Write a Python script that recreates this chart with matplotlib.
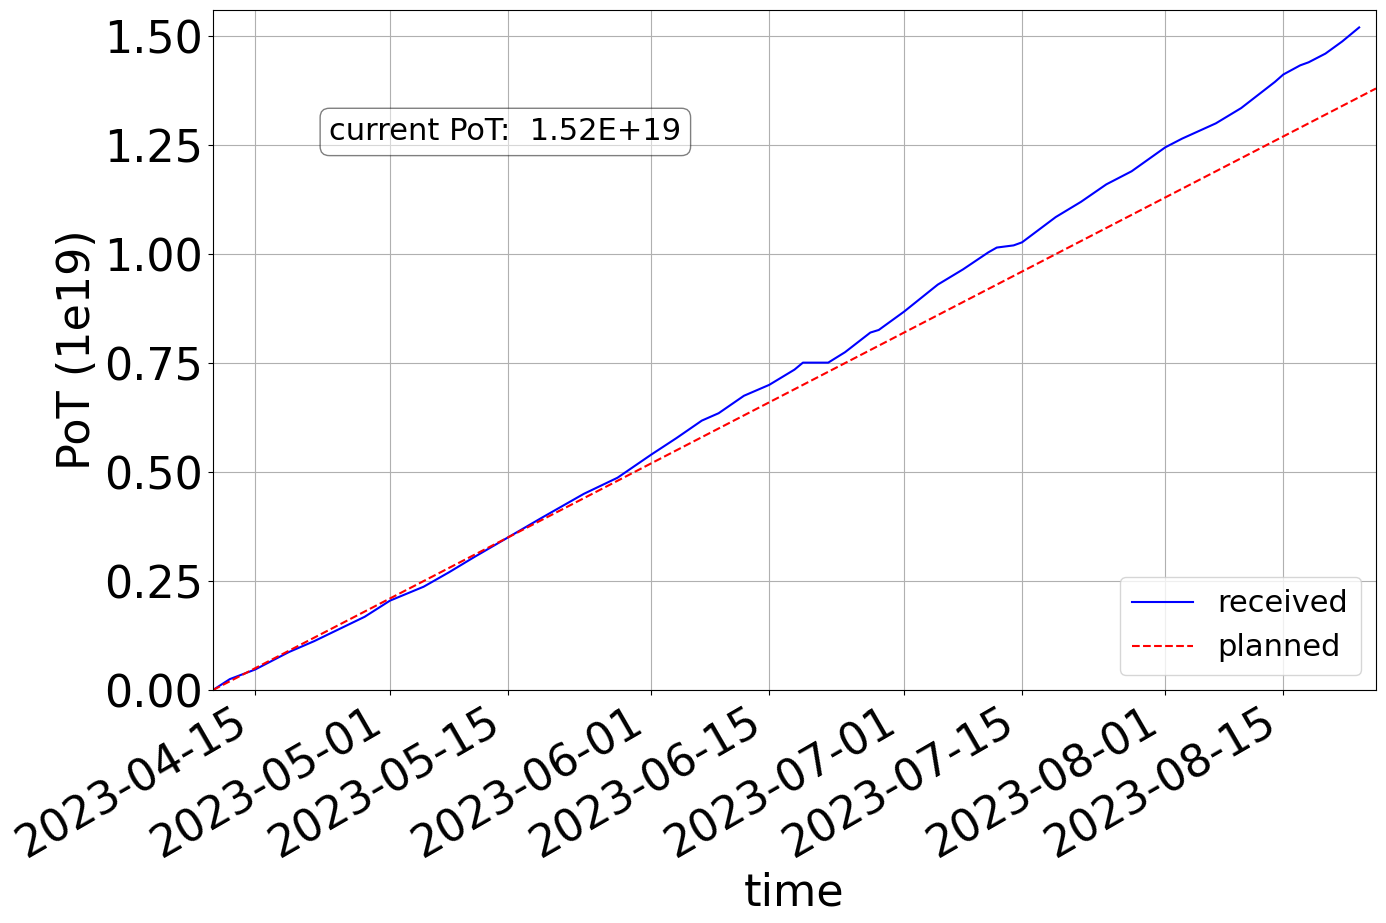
# PoT accumulation: received vs planned
import numpy as np
import pandas as pd
import matplotlib
matplotlib.use("Agg")
import matplotlib.pyplot as plt

# received PoT (1e19)
recv_dates = ["2023-04-10", "2023-04-12", "2023-04-15", "2023-04-19", "2023-04-22",
              "2023-04-25", "2023-04-28", "2023-05-01", "2023-05-05", "2023-05-08",
              "2023-05-11", "2023-05-15", "2023-05-19", "2023-05-24", "2023-05-28",
              "2023-06-01", "2023-06-04", "2023-06-07", "2023-06-09", "2023-06-12",
              "2023-06-15", "2023-06-18", "2023-06-19", "2023-06-22", "2023-06-24",
              "2023-06-27", "2023-06-28", "2023-07-01", "2023-07-05", "2023-07-08",
              "2023-07-11", "2023-07-12", "2023-07-14", "2023-07-15", "2023-07-19",
              "2023-07-22", "2023-07-25", "2023-07-28", "2023-08-01", "2023-08-03",
              "2023-08-07", "2023-08-10", "2023-08-14", "2023-08-15", "2023-08-17",
              "2023-08-18", "2023-08-20", "2023-08-22", "2023-08-24"]
recv_pot = [0.0, 0.025, 0.047, 0.087, 0.112,
            0.14, 0.168, 0.205, 0.237, 0.27,
            0.305, 0.35, 0.395, 0.45, 0.487,
            0.54, 0.578, 0.618, 0.635, 0.675,
            0.70, 0.735, 0.751, 0.751, 0.775,
            0.82, 0.826, 0.868, 0.93, 0.965,
            1.004, 1.015, 1.02, 1.027, 1.085,
            1.12, 1.16, 1.19, 1.245, 1.265,
            1.30, 1.335, 1.395, 1.412, 1.433,
            1.44, 1.46, 1.488, 1.52]

# planned: 1e17 PoT per day from start
plan_dates = ["2023-04-10", "2023-08-26"]
plan_pot = [0.0, 1.38]

recv_dates = pd.to_datetime(recv_dates)
plan_dates = pd.to_datetime(plan_dates)

fig, ax = plt.subplots(figsize=(13.86, 9.23), dpi=100)
ax.plot(recv_dates, recv_pot, color="blue", label="received")
ax.plot(plan_dates, plan_pot, color="red", linestyle="--", label="planned")

ax.set_xlim(plan_dates[0], plan_dates[-1])
ax.set_ylim(0, 1.56)
ax.set_yticks([0.0, 0.25, 0.5, 0.75, 1.0, 1.25, 1.5])
ax.set_xticks(pd.to_datetime(["2023-04-15", "2023-05-01", "2023-05-15", "2023-06-01",
                              "2023-06-15", "2023-07-01", "2023-07-15", "2023-08-01",
                              "2023-08-15"]))
ax.xaxis.set_major_formatter(matplotlib.dates.DateFormatter("%Y-%m-%d"))
ax.tick_params(labelsize=32)
ax.set_xlabel("time", fontsize=32)
ax.set_ylabel("PoT (1e19)", fontsize=32)
ax.grid(True)
ax.legend(loc="lower right", fontsize=22)

ax.text(0.1, 0.842, "current PoT:  %.2E" % (recv_pot[-1] * 1e19), transform=ax.transAxes,
        fontsize=22, verticalalignment="top",
        bbox=dict(boxstyle="round", facecolor="white", alpha=0.5))

fig.autofmt_xdate()
fig.subplots_adjust(left=213 / 1386, right=1376 / 1386, top=1 - 10 / 923, bottom=1 - 690 / 923)
fig.savefig("out.png")
